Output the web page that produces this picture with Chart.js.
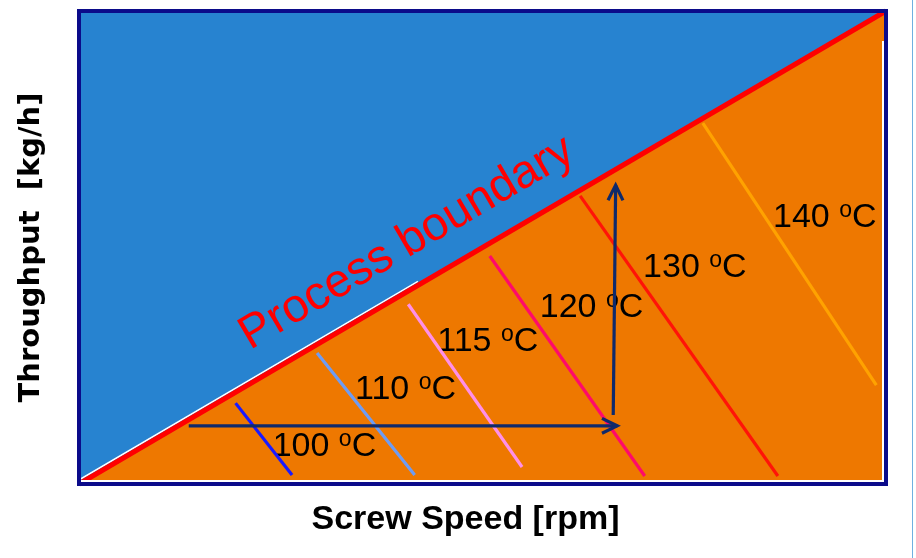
<!DOCTYPE html>
<html>
<head>
<meta charset="utf-8">
<script src="https://cdn.jsdelivr.net/npm/chart.js@4/dist/chart.umd.min.js"></script>
<style>
html,body{margin:0;padding:0;background:#fff;}
#wrap{width:916px;height:558px;}
</style>
</head>
<body>
<div id="wrap"><canvas id="c" width="916" height="558"></canvas></div>
<script>
// ---- data (axis units: 0..100 relative screw speed / throughput) ----
const boundaryX = [0, 100];
const boundaryY = [0, 100];
const edgeX = [0, 42];
const edgeY = [0.85, 42.85];
const isoNames = ['100', '110', '115', '120', '130', '140'];
const isoStartX = [19.4, 29.5, 40.8, 50.9, 62.1, 77.3];
const isoStartY = [17.1, 27.7, 38.0, 48.2, 60.9, 76.3];
const isoEndX = [26.4, 41.6, 54.9, 70.1, 86.6, 98.8];
const isoEndY = [1.9, 1.9, 3.6, 1.7, 1.7, 20.9];
const labelX = [24.0, 34.2, 44.4, 57.1, 69.9, 86.0];
const labelY = [5.9, 18.0, 28.1, 35.3, 43.8, 54.3];
const arrowHX = [13.6, 66.7];
const arrowHY = [12.3, 12.3];
const arrowVX = [66.2, 66.5];
const arrowVY = [14.6, 63.2];
const boundaryText = 'Process boundary';
const boundaryTextX = [21.2];
const boundaryTextY = [28.3];

// ---- styles ----
const isoColors = ['#1a1aff', '#6e9cf4', '#ff8fe8', '#ff0a6a', '#ff1408', '#ffa200'];
const arrowColor = '#0f2a6b';
const navy = '#0b0b8a';

const pts = (xs, ys) => xs.map((x, i) => ({x: x, y: ys[i]}));

const datasets = [
  {label: 'Process boundary', data: pts(boundaryX, boundaryY), borderColor: '#ff0000', borderWidth: 5,
   backgroundColor: '#ee7800', fill: 'start', pointRadius: 0, order: 10, clip: false},
  {label: 'edge', data: pts(edgeX, edgeY), borderColor: '#ffffff', borderWidth: 1.5, pointRadius: 0, order: 11, fill: false}
];
isoNames.forEach((n, i) => {
  datasets.push({label: n + ' °C', data: pts([isoStartX[i], isoEndX[i]], [isoStartY[i], isoEndY[i]]),
    borderColor: isoColors[i], borderWidth: 3.2, pointRadius: 0, order: 5, fill: false});
});
datasets.push({label: 'arrowH', data: pts(arrowHX, arrowHY), borderColor: arrowColor, borderWidth: 3.2, pointRadius: 0, order: 0, fill: false});
datasets.push({label: 'arrowV', data: pts(arrowVX, arrowVY), borderColor: arrowColor, borderWidth: 3.2, pointRadius: 0, order: 0, fill: false});

const FONT = '"Liberation Sans", Arial, sans-serif';

function drawTempLabel(ctx, x, y, num) {
  ctx.fillStyle = '#000';
  ctx.textBaseline = 'alphabetic';
  ctx.textAlign = 'left';
  ctx.font = '34px ' + FONT;
  const a = num + ' ';
  ctx.fillText(a, x, y);
  let w = ctx.measureText(a).width;
  ctx.font = '23px ' + FONT;
  ctx.fillText('o', x + w, y - 10);
  w += ctx.measureText('o').width;
  ctx.font = '34px ' + FONT;
  ctx.fillText('C', x + w, y);
}

function arrowHead(ctx, x0, y0, x1, y1) {
  const ang = Math.atan2(y1 - y0, x1 - x0);
  const L = 17, s = 26 * Math.PI / 180;
  ctx.beginPath();
  ctx.moveTo(x1 - L * Math.cos(ang - s), y1 - L * Math.sin(ang - s));
  ctx.lineTo(x1, y1);
  ctx.lineTo(x1 - L * Math.cos(ang + s), y1 - L * Math.sin(ang + s));
  ctx.stroke();
}

const deco = {
  id: 'deco',
  beforeDraw(chart) {
    const {ctx, chartArea: a} = chart;
    ctx.save();
    ctx.fillStyle = '#2783d0';
    ctx.fillRect(a.left, a.top, a.right - a.left, a.bottom - a.top);
    ctx.restore();
  },
  afterDatasetDraw(chart, args) {
    if (args.index !== 0) return;
    const {ctx, scales: {x, y}} = chart;
    ctx.save();
    isoNames.forEach((n, i) => drawTempLabel(ctx, x.getPixelForValue(labelX[i]), y.getPixelForValue(labelY[i]), n));
    // process boundary text, rotated along the boundary line
    const x0 = x.getPixelForValue(boundaryX[0]), y0 = y.getPixelForValue(boundaryY[0]);
    const x1 = x.getPixelForValue(boundaryX[1]), y1 = y.getPixelForValue(boundaryY[1]);
    const ang = Math.atan2(y1 - y0, x1 - x0);
    ctx.translate(x.getPixelForValue(boundaryTextX[0]), y.getPixelForValue(boundaryTextY[0]));
    ctx.rotate(ang);
    ctx.font = '47px ' + FONT;
    ctx.fillStyle = '#ff0000';
    ctx.textAlign = 'left';
    ctx.textBaseline = 'alphabetic';
    ctx.fillText(boundaryText, 0, 0);
    ctx.restore();
  },
  afterDatasetsDraw(chart) {
    const {ctx, chartArea: a} = chart;
    ctx.save();
    ctx.fillStyle = '#ffffff';
    ctx.fillRect(a.left + 2, a.bottom - 4, a.right - a.left - 6, 2);
    ctx.fillRect(a.right - 4, a.top + 30, 2, a.bottom - a.top - 32);
    ctx.strokeStyle = navy;
    ctx.lineWidth = 4;
    ctx.strokeRect(a.left, a.top, a.right - a.left, a.bottom - a.top);
    ctx.strokeStyle = arrowColor;
    ctx.lineWidth = 3.2;
    ctx.lineJoin = 'miter';
    const n = chart.data.datasets.length;
    [n - 2, n - 1].forEach(di => {
      const p = chart.getDatasetMeta(di).data;
      const p0 = p[p.length - 2], p1 = p[p.length - 1];
      arrowHead(ctx, p0.x, p0.y, p1.x, p1.y);
    });
    ctx.restore();
  },
  afterDraw(chart) {
    const {ctx} = chart;
    ctx.save();
    ctx.strokeStyle = '#6fb0e0';
    ctx.lineWidth = 1;
    ctx.beginPath();
    ctx.moveTo(912.5, 0);
    ctx.lineTo(912.5, 558);
    ctx.stroke();
    ctx.restore();
  }
};

new Chart(document.getElementById('c'), {
  type: 'line',
  data: {datasets: datasets},
  options: {
    responsive: false,
    animation: false,
    devicePixelRatio: 1,
    layout: {autoPadding: false, padding: {top: 11, right: 30, bottom: 0, left: 0}},
    plugins: {legend: {display: false}, tooltip: {enabled: false}},
    elements: {line: {tension: 0, borderCapStyle: 'butt'}},
    scales: {
      x: {
        type: 'linear', min: 0, max: 100,
        ticks: {display: false},
        grid: {display: false, drawTicks: false},
        border: {display: false},
        title: {display: true, text: 'Screw Speed [rpm]\u2003', color: '#000',
          font: {family: FONT, size: 34, weight: 'bold', lineHeight: 1.2},
          padding: {top: 15.6, bottom: 17.6}}
      },
      y: {
        type: 'linear', min: 0, max: 100,
        ticks: {display: false},
        grid: {display: false, drawTicks: false},
        border: {display: false},
        title: {display: true, text: 'Throughput  [kg/h]', color: '#000',
          font: {family: '"DejaVu Sans", Verdana, sans-serif', size: 29, weight: 'bold', lineHeight: 1.2},
          padding: {top: 13.6, bottom: 30.6}}
      }
    }
  },
  plugins: [deco]
});
</script>
</body>
</html>
